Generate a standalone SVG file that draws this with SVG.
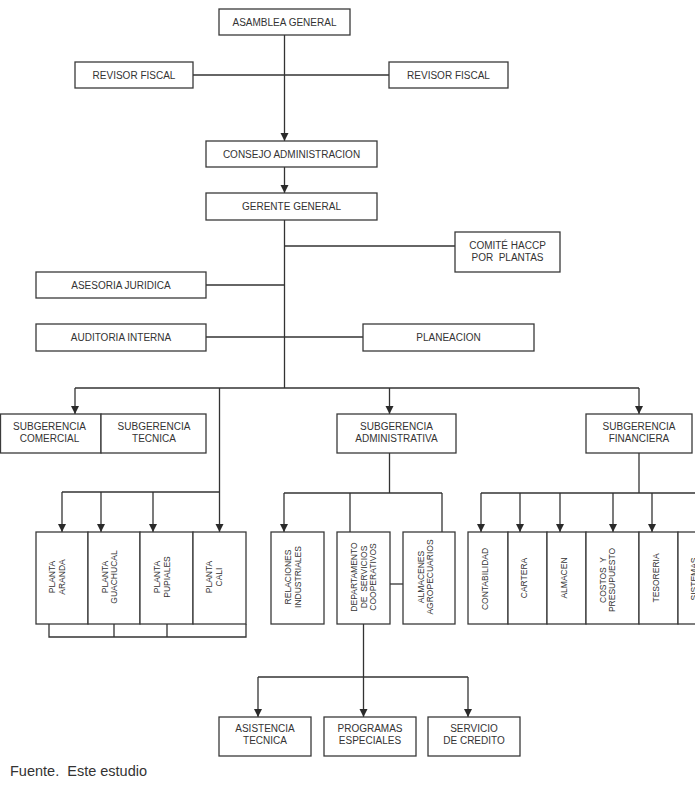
<svg xmlns="http://www.w3.org/2000/svg" width="695" height="785" viewBox="0 0 695 785">
<style>
.box{fill:#fff;stroke:#3a3a3a;stroke-width:1.3}
.t{font-family:"Liberation Sans",Arial,sans-serif;font-size:10px;fill:#333;text-anchor:middle;white-space:pre}
.v{font-family:"Liberation Sans",Arial,sans-serif;font-size:8.5px;fill:#333;text-anchor:middle;white-space:pre}
.c{fill:none;stroke:#333;stroke-width:1.3}
.a{fill:none;stroke:#333;stroke-width:1.3;marker-end:url(#arr)}
.f{font-family:"Liberation Sans",Arial,sans-serif;font-size:14.5px;fill:#333;white-space:pre}
</style>
<defs>
<marker id="arr" markerUnits="userSpaceOnUse" markerWidth="9" markerHeight="9" refX="8" refY="4" orient="auto">
<path d="M0,0 L8,4 L0,8 z" fill="#2a2a2a"/>
</marker>
</defs>
<rect width="695" height="785" fill="#fff"/>

<g id="connectors">
<path class="a" d="M284.5 35 V141"/>
<path class="c" d="M193 75 H389"/>
<path class="a" d="M284.5 167 V193"/>
<path class="c" d="M284.5 220 V388"/>
<path class="c" d="M284.5 246 H455"/>
<path class="c" d="M206 285 H284.5"/>
<path class="c" d="M206 337 H363"/>
<path class="c" d="M75 388 H639"/>
<path class="a" d="M75 388 V414"/>
<path class="a" d="M389.5 388 V414"/>
<path class="a" d="M639 388 V414"/>
<path class="a" d="M219.5 388 V532"/>
<path class="c" d="M62 492 H219.5"/>
<path class="a" d="M62 492 V532"/>
<path class="a" d="M101 492 V532"/>
<path class="a" d="M153 492 V532"/>
<path class="c" d="M49 624 V637 H246 V624 M114 624 V637 M167 624 V637"/>
<path class="c" d="M389.5 453 V493"/>
<path class="c" d="M284 493 H442"/>
<path class="a" d="M284 493 V532"/>
<path class="c" d="M350 493 V532"/>
<path class="c" d="M442 493 V532"/>
<path class="c" d="M390 584 H403"/>
<path class="a" d="M363.5 624 V717"/>
<path class="c" d="M258 677 H468"/>
<path class="a" d="M258 677 V717"/>
<path class="a" d="M468 677 V717"/>
<path class="c" d="M639 453 V493"/>
<path class="c" d="M481 493 H696"/>
<path class="a" d="M481 493 V532"/>
<path class="a" d="M520 493 V532"/>
<path class="a" d="M560 493 V532"/>
<path class="a" d="M613 493 V532"/>
<path class="a" d="M652 493 V532"/>
</g>

<g id="asamblea"><rect class="box" x="219" y="9" width="131" height="26"/><text class="t" x="284.5" y="25.5">ASAMBLEA GENERAL</text></g>
<g id="revisor1"><rect class="box" x="75" y="62" width="118" height="26"/><text class="t" x="134" y="78.5">REVISOR FISCAL</text></g>
<g id="revisor2"><rect class="box" x="389" y="62" width="119" height="26"/><text class="t" x="448.5" y="78.5">REVISOR FISCAL</text></g>
<g id="consejo"><rect class="box" x="206" y="141" width="171" height="26"/><text class="t" x="291.5" y="157.5">CONSEJO ADMINISTRACION</text></g>
<g id="gerente"><rect class="box" x="206" y="193" width="171" height="27"/><text class="t" x="291.5" y="210">GERENTE GENERAL</text></g>
<g id="comite"><rect class="box" x="455" y="232" width="105" height="40"/><text class="t" x="507.5" y="249">COMITÉ HACCP</text><text class="t" x="507.5" y="261">POR  PLANTAS</text></g>
<g id="asesoria"><rect class="box" x="36" y="272" width="170" height="26"/><text class="t" x="121" y="288.5">ASESORIA JURIDICA</text></g>
<g id="auditoria"><rect class="box" x="36" y="324" width="170" height="27"/><text class="t" x="121" y="341">AUDITORIA INTERNA</text></g>
<g id="planeacion"><rect class="box" x="363" y="324" width="171" height="27"/><text class="t" x="448.5" y="341">PLANEACION</text></g>

<g id="sub-comercial"><rect class="box" x="0.5" y="414" width="100.5" height="39"/><text class="t" x="49.5" y="430">SUBGERENCIA</text><text class="t" x="49.5" y="441.5">COMERCIAL</text></g>
<g id="sub-tecnica"><rect class="box" x="101" y="414" width="105" height="39"/><text class="t" x="154" y="430">SUBGERENCIA</text><text class="t" x="154" y="441.5">TECNICA</text></g>
<g id="sub-admin"><rect class="box" x="337" y="414" width="119" height="39"/><text class="t" x="396.5" y="430">SUBGERENCIA</text><text class="t" x="396.5" y="441.5">ADMINISTRATIVA</text></g>
<g id="sub-financiera"><rect class="box" x="586" y="414" width="106" height="39"/><text class="t" x="639" y="430">SUBGERENCIA</text><text class="t" x="639" y="441.5">FINANCIERA</text></g>

<g id="planta-aranda"><rect class="box" x="36" y="532" width="52" height="92"/>
<text class="v" transform="translate(55,577) rotate(-90)">PLANTA</text><text class="v" transform="translate(65,577) rotate(-90)">ARANDA</text></g>
<g id="planta-guachucal"><rect class="box" x="88" y="532" width="52" height="92"/>
<text class="v" transform="translate(108,577) rotate(-90)">PLANTA</text><text class="v" transform="translate(117,577) rotate(-90)">GUACHUCAL</text></g>
<g id="planta-pupiales"><rect class="box" x="140" y="532" width="53" height="92"/>
<text class="v" transform="translate(160,577) rotate(-90)">PLANTA</text><text class="v" transform="translate(170,577) rotate(-90)">PUPIALES</text></g>
<g id="planta-cali"><rect class="box" x="193" y="532" width="53" height="92"/>
<text class="v" transform="translate(212,577) rotate(-90)">PLANTA</text><text class="v" transform="translate(222,577) rotate(-90)">CALI</text></g>

<g id="relaciones"><rect class="box" x="271" y="532" width="53" height="92"/>
<text class="v" transform="translate(291,577) rotate(-90)">RELACIONES</text><text class="v" transform="translate(301,577) rotate(-90)">INDUSTRIALES</text></g>
<g id="departamento"><rect class="box" x="337" y="532" width="53" height="92"/>
<text class="v" transform="translate(357,577) rotate(-90)">DEPARTAMENTO</text><text class="v" transform="translate(367,577) rotate(-90)">DE  SERVICIOS</text><text class="v" transform="translate(376,577) rotate(-90)">COOPERATIVOS</text></g>
<g id="almacenes"><rect class="box" x="403" y="532" width="52" height="92"/>
<text class="v" transform="translate(424,577) rotate(-90)">ALMACENES</text><text class="v" transform="translate(433,577) rotate(-90)">AGROPECUARIOS</text></g>

<g id="contabilidad"><rect class="box" x="468" y="532" width="40" height="92"/><text class="v" transform="translate(488,579) rotate(-90)">CONTABILIDAD</text></g>
<g id="cartera"><rect class="box" x="508" y="532" width="39" height="92"/><text class="v" transform="translate(527,578) rotate(-90)">CARTERA</text></g>
<g id="almacen"><rect class="box" x="547" y="532" width="39" height="92"/><text class="v" transform="translate(567,578) rotate(-90)">ALMACEN</text></g>
<g id="costos"><rect class="box" x="586" y="532" width="53" height="92"/>
<text class="v" transform="translate(606,580) rotate(-90)">COSTOS  Y</text><text class="v" transform="translate(615,580) rotate(-90)">PRESUPUESTO</text></g>
<g id="tesoreria"><rect class="box" x="639" y="532" width="39" height="92"/><text class="v" transform="translate(659,578) rotate(-90)">TESORERIA</text></g>
<g id="sistemas"><rect class="box" x="678" y="532" width="40" height="92"/><text class="v" transform="translate(696.5,579) rotate(-90)">SISTEMAS</text></g>

<g id="asistencia"><rect class="box" x="219" y="717" width="92" height="39"/><text class="t" x="265" y="732">ASISTENCIA</text><text class="t" x="265" y="743.5">TECNICA</text></g>
<g id="programas"><rect class="box" x="324" y="717" width="92" height="39"/><text class="t" x="370" y="732">PROGRAMAS</text><text class="t" x="370" y="743.5">ESPECIALES</text></g>
<g id="servicio"><rect class="box" x="428" y="717" width="92" height="39"/><text class="t" x="474" y="732">SERVICIO</text><text class="t" x="474" y="743.5">DE CREDITO</text></g>

<text class="f" x="10" y="776">Fuente.  Este estudio</text>
</svg>
